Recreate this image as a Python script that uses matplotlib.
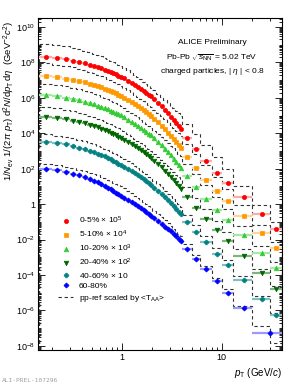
import numpy as np
import matplotlib
matplotlib.use('Agg')
import matplotlib.pyplot as plt
from matplotlib.lines import Line2D
from matplotlib.ticker import LogLocator, FixedLocator, NullFormatter, FuncFormatter

plt.rcParams['font.family'] = ['Liberation Sans', 'DejaVu Sans']
plt.rcParams['mathtext.fontset'] = 'custom'
plt.rcParams['mathtext.rm'] = 'Liberation Sans'
plt.rcParams['mathtext.it'] = 'Liberation Sans:italic'
plt.rcParams['mathtext.bf'] = 'Liberation Sans:bold'

# ---- data ----
pt_edges = [0.15, 0.20, 0.25, 0.30, 0.35, 0.40, 0.45, 0.50, 0.55, 0.60, 0.65, 0.70,
            0.75, 0.80, 0.85, 0.90, 0.95, 1.00,
            1.1, 1.2, 1.3, 1.4, 1.5, 1.6, 1.7, 1.8, 1.9, 2.0,
            2.2, 2.4, 2.6, 2.8, 3.0, 3.2, 3.4, 3.6, 3.8, 4.0,
            5.0, 6.0, 8.0, 10.0, 13.0, 20.0, 30.0, 40.0]
pt_edges_6080 = [0.15, 0.20, 0.25, 0.30, 0.35, 0.40, 0.45, 0.50, 0.55, 0.60, 0.65, 0.70,
                 0.75, 0.80, 0.85, 0.90, 0.95, 1.00,
                 1.1, 1.2, 1.3, 1.4, 1.5, 1.6, 1.7, 1.8, 1.9, 2.0,
                 2.2, 2.4, 2.6, 2.8, 3.0, 3.2, 3.4, 3.6, 3.8, 4.0,
                 5.0, 6.0, 8.0, 10.0, 13.0, 20.0, 40.0]

centrality_labels = ['0-5%', '5-10%', '10-20%', '20-40%', '40-60%', '60-80%']
scale_factors = [1e5, 1e4, 1e3, 1e2, 1e1, 1e0]
scale_texts = [r' $\times$ 10$^{5}$', r' $\times$ 10$^{4}$', r' $\times$ 10$^{3}$',
               r' $\times$ 10$^{2}$', r' $\times$ 10', '']
taa = [26.32, 20.56, 14.39, 6.85, 1.996, 0.4174]

# log10 of pp reference invariant cross section (mb GeV^-2 c^2)
log_pp_ref = [2.64, 2.57, 2.49, 2.41, 2.32, 2.24, 2.16, 2.08, 2.00, 1.92, 1.84, 1.76,
              1.68, 1.60, 1.53, 1.45, 1.38,
              1.27, 1.13, 1.00, 0.87, 0.74, 0.62, 0.50, 0.38, 0.26, 0.16,
              0.00, -0.18, -0.35, -0.53, -0.70, -0.86, -1.01, -1.16, -1.30, -1.44,
              -1.89, -2.47, -3.09, -3.77, -4.43, -5.37, -6.49, -7.44]

# log10 of invariant yields (unscaled)
log_yield_0_5 = [3.30, 3.24, 3.17, 3.10, 3.02, 2.95, 2.88, 2.81, 2.74, 2.67, 2.60, 2.53,
                 2.46, 2.39, 2.33, 2.26, 2.20,
                 2.10, 1.98, 1.86, 1.74, 1.62, 1.51, 1.40, 1.29, 1.18, 1.08,
                 0.92, 0.73, 0.54, 0.34, 0.14, -0.05, -0.23, -0.41, -0.58, -0.74,
                 -1.25, -1.90, -2.56, -3.22, -3.79, -4.61, -5.57, -6.42]
log_yield_5_10 = [3.22, 3.16, 3.09, 3.02, 2.94, 2.87, 2.80, 2.73, 2.66, 2.59, 2.52, 2.45,
                  2.38, 2.31, 2.25, 2.18, 2.12,
                  2.02, 1.90, 1.78, 1.66, 1.54, 1.43, 1.32, 1.21, 1.10, 1.00,
                  0.82, 0.63, 0.44, 0.24, 0.04, -0.15, -0.33, -0.51, -0.68, -0.84,
                  -1.34, -1.97, -2.61, -3.26, -3.83, -4.65, -5.63, -6.49]
log_yield_10_20 = [3.15, 3.09, 3.02, 2.95, 2.86, 2.79, 2.72, 2.65, 2.57, 2.50, 2.43, 2.36,
                   2.28, 2.21, 2.15, 2.08, 2.01,
                   1.90, 1.78, 1.66, 1.54, 1.42, 1.31, 1.20, 1.09, 0.98, 0.88,
                   0.72, 0.53, 0.34, 0.14, -0.06, -0.25, -0.43, -0.61, -0.78, -0.94,
                   -1.41, -2.02, -2.69, -3.33, -3.89, -4.73, -5.73, -6.58]
log_yield_20_40 = [2.93, 2.87, 2.79, 2.72, 2.63, 2.56, 2.48, 2.41, 2.33, 2.26, 2.18, 2.11,
                   2.03, 1.96, 1.89, 1.82, 1.75,
                   1.63, 1.51, 1.39, 1.27, 1.15, 1.04, 0.93, 0.82, 0.71, 0.61,
                   0.46, 0.27, 0.09, -0.10, -0.30, -0.48, -0.65, -0.83, -0.99, -1.14,
                   -1.61, -2.21, -2.84, -3.47, -4.07, -4.91, -5.90, -6.79]
log_yield_40_60 = [2.52, 2.45, 2.37, 2.28, 2.19, 2.11, 2.03, 1.94, 1.86, 1.78, 1.70, 1.61,
                   1.53, 1.45, 1.38, 1.29, 1.22,
                   1.10, 0.98, 0.86, 0.74, 0.62, 0.51, 0.40, 0.29, 0.18, 0.08,
                   -0.08, -0.25, -0.42, -0.60, -0.78, -0.95, -1.11, -1.27, -1.42, -1.56,
                   -1.99, -2.58, -3.16, -3.82, -4.42, -5.28, -6.35, -7.25]
log_yield_60_80 = [2.00, 1.91, 1.82, 1.72, 1.62, 1.52, 1.42, 1.33, 1.23, 1.13, 1.04, 0.94,
                   0.84, 0.75, 0.66, 0.57, 0.48,
                   0.35, 0.23, 0.11, -0.01, -0.13, -0.24, -0.35, -0.46, -0.57, -0.67,
                   -0.80, -0.95, -1.11, -1.27, -1.40, -1.54, -1.68, -1.82, -1.95, -2.07,
                   -2.55, -3.08, -3.66, -4.36, -4.99, -5.84, -7.25]

log_yields = [log_yield_0_5, log_yield_5_10, log_yield_10_20,
              log_yield_20_40, log_yield_40_60, log_yield_60_80]

# ---- styles ----
colors = ['#ff0000', '#ff9900', '#33cc33', '#006600', '#008080', '#0000ff']
light = ['#ffaaaa', '#ffd699', '#a6e8a6', '#80b380', '#80c0c0', '#9999ff']
markers = ['o', 's', '^', 'v', 'P', 'D']
msizes = [3.0, 3.0, 3.3, 3.3, 3.3, 2.6]

fig = plt.figure(figsize=(3.05, 3.85), dpi=100)
ax = fig.add_axes([38/305, 1-350/385, (282-38)/305, (350-18)/385])

for i in range(6):
    edges = np.array(pt_edges if i < 5 else pt_edges_6080)
    lo, hi = edges[:-1], edges[1:]
    x = 0.5*(lo+hi)
    y = 10**np.array(log_yields[i]) * scale_factors[i]
    ref = 10**np.array(log_pp_ref) * taa[i] * scale_factors[i]
    ax.stairs(ref, pt_edges, color='#333333', ls=(0, (3, 2.5)), lw=0.8, zorder=2)
    ax.errorbar(x, y, xerr=[x-lo, hi-x], fmt='none', ecolor=light[i],
                elinewidth=1.6, capsize=0, zorder=3)
    ax.plot(x, y, ls='none', marker=markers[i], color=colors[i], ms=msizes[i],
            mec=colors[i], mew=0.5, zorder=4)

ax.set_xscale('log')
ax.set_yscale('log')
ax.set_xlim(0.145, 40)
ax.set_ylim(10**-8.23, 10**10.51)

ax.xaxis.set_major_locator(FixedLocator([1, 10]))
ax.xaxis.set_major_formatter(FuncFormatter(lambda v, p: '%g' % v))
ax.xaxis.set_minor_locator(LogLocator(base=10, subs=np.arange(2, 10), numticks=20))
ax.xaxis.set_minor_formatter(NullFormatter())

def yfmt(v, p):
    e = int(round(np.log10(v)))
    return '1' if e == 0 else r'$10^{%d}$' % e

ax.yaxis.set_major_locator(FixedLocator([10.0**k for k in range(-8, 11, 2)]))
ax.yaxis.set_major_formatter(FuncFormatter(yfmt))
ax.yaxis.set_minor_locator(LogLocator(base=10, subs=np.arange(1, 10), numticks=40))
ax.yaxis.set_minor_formatter(NullFormatter())

ax.tick_params(which='both', direction='in', top=True, right=True, labelsize=6.5,
               width=0.6, colors='black')
ax.tick_params(which='major', length=5, pad=2)
ax.tick_params(which='minor', length=2.5)
for s in ax.spines.values():
    s.set_linewidth(0.8)

ax.set_xlabel(r'$p_{\rm T}$ (GeV/$c$)', fontsize=7, loc='right')
ax.xaxis.set_label_coords(1.0, -0.048)
ax.set_ylabel(r'$1/N_{\rm ev}\ 1/(2\pi\ p_{\rm T})\ {\rm d}^{2}N/{\rm d}p_{\rm T}\,{\rm d}\eta\ \ ({\rm GeV}^{-2}c^{2})$',
              fontsize=6.8, loc='top')
ax.yaxis.set_label_coords(-0.085, 0.99)

fig.text(212/305, 1-43/385, 'ALICE Preliminary', ha='center', va='center', fontsize=6)
fig.text(212/305, 1-57.5/385, r'Pb-Pb $\sqrt{s_{\rm NN}}$ = 5.02 TeV', ha='center', va='center', fontsize=6)
fig.text(212/305, 1-71.5/385, r'charged particles, | $\eta$ | < 0.8', ha='center', va='center', fontsize=6)

handles = []
labels = []
for i in range(6):
    handles.append(Line2D([], [], ls='none', marker=markers[i], color=colors[i],
                          ms=msizes[i], mec=colors[i], mew=0.5))
    labels.append(centrality_labels[i] + scale_texts[i])
handles.append(Line2D([], [], ls=(0, (3, 2.5)), color='#333333', lw=0.8))
labels.append(r'pp-ref scaled by <T$_{\rm AA}$>')
ax.legend(handles, labels, loc='upper left', bbox_to_anchor=((58-38)/244, 1-(215-18)/332),
          frameon=False, fontsize=6, handlelength=1.8, handletextpad=0.7,
          labelspacing=0.32, borderpad=0, borderaxespad=0)

fig.text(2/305, 1-381/385, 'ALI-PREL-107296', ha='left', va='center', fontsize=4.5,
         family='DejaVu Sans Mono', color='#a0a0a0')

fig.savefig('out.png', dpi=100)
